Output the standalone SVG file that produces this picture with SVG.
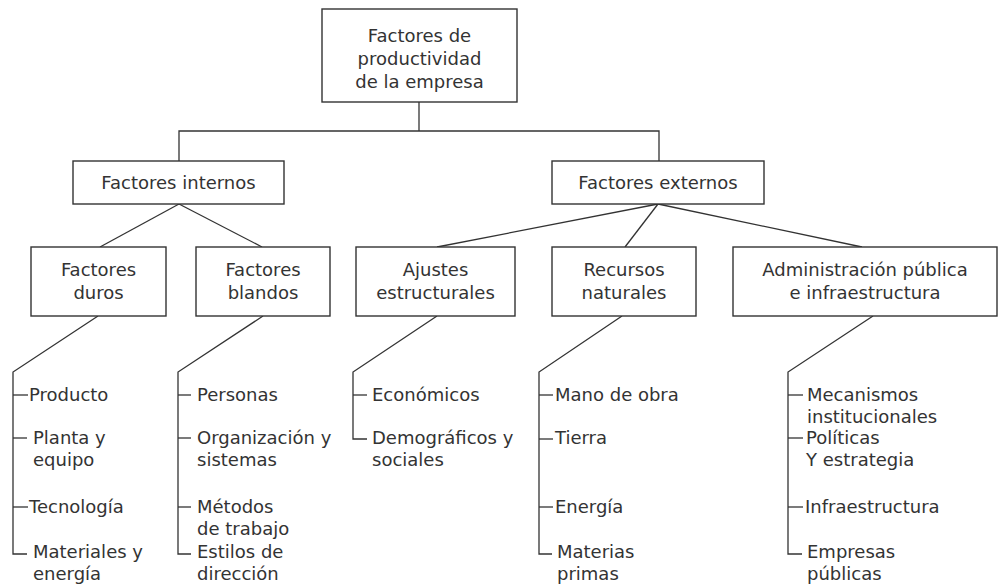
<svg xmlns="http://www.w3.org/2000/svg" width="998" height="586" viewBox="0 0 998 586">
<style>
rect.box{fill:#fff;stroke:#333;stroke-width:1.4}
.c line,.c path,.c polyline{fill:none;stroke:#333;stroke-width:1.3}
text{font-family:"DejaVu Sans","Liberation Sans",sans-serif;font-size:18px;fill:#333}
.m{text-anchor:middle}
</style>
<rect width="998" height="586" fill="#fff"/>
<g class="c" id="connectors">
<polyline points="419,102 419,131"/>
<polyline points="179,161 179,131 659,131 659,161"/>
<line x1="179" y1="204" x2="100" y2="247"/>
<line x1="179" y1="204" x2="262" y2="247"/>
<line x1="658" y1="204" x2="437" y2="247"/>
<line x1="658" y1="204" x2="625" y2="247"/>
<line x1="658" y1="204" x2="862" y2="247"/>
<polyline points="98,316 13,372 13,554 27,554"/>
<line x1="13" y1="395" x2="28" y2="395"/>
<line x1="13" y1="438" x2="27" y2="438"/>
<line x1="13" y1="507" x2="28" y2="507"/>
<polyline points="263,316 178,372 178,554 191,554"/>
<line x1="178" y1="395" x2="191" y2="395"/>
<line x1="178" y1="438" x2="191" y2="438"/>
<line x1="178" y1="507" x2="191" y2="507"/>
<polyline points="437,316 353,372 353,439 367,439"/>
<line x1="353" y1="395" x2="367" y2="395"/>
<polyline points="622,316 539,372 539,554 552,554"/>
<line x1="539" y1="395" x2="553" y2="395"/>
<line x1="539" y1="439" x2="553" y2="439"/>
<line x1="539" y1="507" x2="553" y2="507"/>
<polyline points="873,316 788,372 788,554 802,554"/>
<line x1="788" y1="395" x2="803" y2="395"/>
<line x1="788" y1="438" x2="803" y2="438"/>
<line x1="788" y1="507" x2="803" y2="507"/>
</g>
<g id="root">
<rect class="box" x="322" y="9" width="195" height="93"/>
<text class="m" x="419.5" y="42">Factores de</text>
<text class="m" x="419.5" y="65">productividad</text>
<text class="m" x="419.5" y="88">de la empresa</text>
</g>
<g id="internos">
<rect class="box" x="73" y="161" width="211" height="43"/>
<text class="m" x="178.5" y="189">Factores internos</text>
</g>
<g id="externos">
<rect class="box" x="552" y="161" width="212" height="43"/>
<text class="m" x="658" y="189">Factores externos</text>
</g>
<g id="duros">
<rect class="box" x="31" y="247" width="135" height="69"/>
<text class="m" x="98.5" y="276">Factores</text>
<text class="m" x="98.5" y="299">duros</text>
</g>
<g id="blandos">
<rect class="box" x="196" y="247" width="134" height="69"/>
<text class="m" x="263" y="276">Factores</text>
<text class="m" x="263" y="299">blandos</text>
</g>
<g id="ajustes">
<rect class="box" x="356" y="247" width="159" height="69"/>
<text class="m" x="435.5" y="276">Ajustes</text>
<text class="m" x="435.5" y="299">estructurales</text>
</g>
<g id="recursos">
<rect class="box" x="552" y="247" width="144" height="69"/>
<text class="m" x="624" y="276">Recursos</text>
<text class="m" x="624" y="299">naturales</text>
</g>
<g id="admin">
<rect class="box" x="733" y="247" width="264" height="69"/>
<text class="m" x="865" y="276">Administración pública</text>
<text class="m" x="865" y="299">e infraestructura</text>
</g>
<g id="items-duros">
<text x="29" y="401">Producto</text>
<text x="33" y="444">Planta y</text>
<text x="33" y="466">equipo</text>
<text x="29" y="513">Tecnología</text>
<text x="33" y="558">Materiales y</text>
<text x="33" y="580">energía</text>
</g>
<g id="items-blandos">
<text x="197" y="401">Personas</text>
<text x="197" y="444">Organización y</text>
<text x="197" y="466">sistemas</text>
<text x="197" y="513">Métodos</text>
<text x="197" y="535">de trabajo</text>
<text x="197" y="558">Estilos de</text>
<text x="197" y="580">dirección</text>
</g>
<g id="items-ajustes">
<text x="372" y="401">Económicos</text>
<text x="372" y="444">Demográficos y</text>
<text x="372" y="466">sociales</text>
</g>
<g id="items-recursos">
<text x="555" y="401">Mano de obra</text>
<text x="555" y="444">Tierra</text>
<text x="555" y="513">Energía</text>
<text x="557" y="558">Materias</text>
<text x="557" y="580">primas</text>
</g>
<g id="items-admin">
<text x="807" y="401">Mecanismos</text>
<text x="807" y="423">institucionales</text>
<text x="806" y="444">Políticas</text>
<text x="806" y="466">Y estrategia</text>
<text x="805" y="513">Infraestructura</text>
<text x="807" y="558">Empresas</text>
<text x="807" y="580">públicas</text>
</g>
</svg>
